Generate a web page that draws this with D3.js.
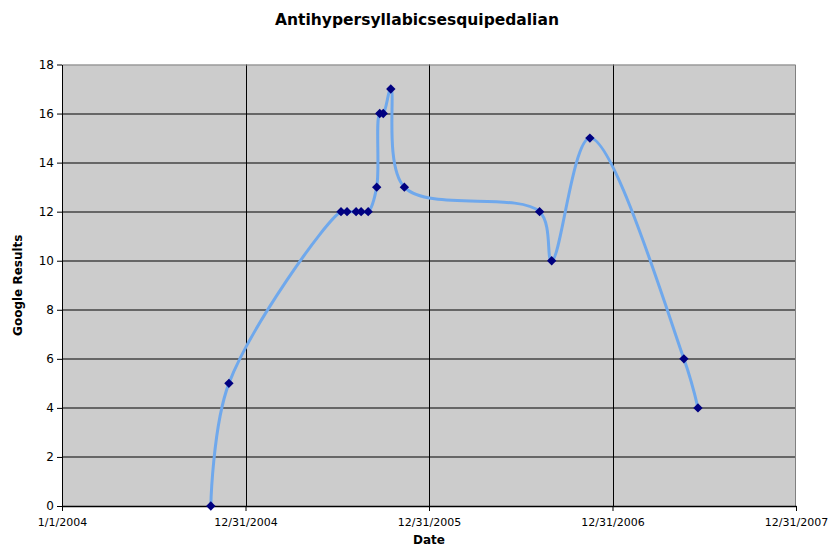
<!DOCTYPE html>
<html>
<head>
<meta charset="utf-8">
<script src="https://cdn.jsdelivr.net/npm/d3@7"></script>
<style>
  body { margin: 0; background: #fff; }
  text { font-family: Verdana, "DejaVu Sans", sans-serif; }
</style>
</head>
<body>
<div id="chart"></div>
<script>
// data
const dates = [
  '2004-10-23', '2004-11-28',
  '2005-07-09', '2005-07-21', '2005-08-08', '2005-08-18', '2005-09-01',
  '2005-09-18', '2005-09-24', '2005-10-01', '2005-10-16', '2005-11-12',
  '2006-08-08', '2006-09-01', '2006-11-16',
  '2007-05-22', '2007-06-19'
];
const results = [0, 5, 12, 12, 12, 12, 12, 13, 16, 16, 17, 13, 12, 10, 15, 6, 4];
const xTickDates = ['2004-01-01', '2004-12-31', '2005-12-31', '2006-12-31', '2007-12-31'];
const yTicks = [0, 2, 4, 6, 8, 10, 12, 14, 16, 18];

const parse = d3.timeParse('%Y-%m-%d');
const fmt = d3.timeFormat('%-m/%-d/%Y');
const data = dates.map((d, i) => ({ date: parse(d), value: results[i] }));

const margin = { top: 64.5, right: 36, bottom: 49, left: 62 };
const width = 832 - margin.left - margin.right;
const height = 555 - margin.top - margin.bottom;

const svg = d3.select('#chart').append('svg')
  .attr('width', 832)
  .attr('height', 555);

const g = svg.append('g')
  .attr('transform', `translate(${margin.left}, ${margin.top})`);

const x = d3.scaleTime()
  .domain([parse(xTickDates[0]), parse(xTickDates[xTickDates.length - 1])])
  .range([0, width]);

const y = d3.scaleLinear()
  .domain([0, 18])
  .range([height, 0]);

// plot background
g.append('rect')
  .attr('width', width)
  .attr('height', height)
  .attr('fill', '#cccccc');

// gridlines
g.append('g')
  .selectAll('line')
  .data(yTicks.slice(1, -1))
  .join('line')
  .attr('x1', 0).attr('x2', width)
  .attr('y1', d => Math.round(y(d)) + 0.5)
  .attr('y2', d => Math.round(y(d)) + 0.5)
  .attr('stroke', '#000');

g.append('g')
  .selectAll('line')
  .data(xTickDates.slice(1, -1).map(parse))
  .join('line')
  .attr('x1', d => Math.round(x(d)) + 0.5)
  .attr('x2', d => Math.round(x(d)) + 0.5)
  .attr('y1', 0).attr('y2', height)
  .attr('stroke', '#000');

// plot border (top & right grey)
g.append('path')
  .attr('d', `M0.5,${height} V0.5 H${width - 0.5} V${height}`)
  .attr('fill', 'none')
  .attr('stroke', '#808080');

// axes
const xAxis = g.append('g')
  .attr('transform', `translate(0, ${height})`)
  .call(d3.axisBottom(x)
    .tickValues(xTickDates.map(parse))
    .tickFormat(fmt)
    .tickSizeInner(5)
    .tickSizeOuter(0));
xAxis.select('.domain').attr('stroke-width', 1.5);
xAxis.selectAll('text')
  .style('font-size', '11px')
  .attr('dy', '1.1em');

const yAxis = g.append('g')
  .call(d3.axisLeft(y)
    .tickValues(yTicks)
    .tickSizeInner(5)
    .tickSizeOuter(0));
yAxis.selectAll('text')
  .style('font-size', '12px')
  .attr('x', -8);

// series line
const line = d3.line()
  .x(d => x(d.date))
  .y(d => y(d.value))
  .curve(d3.curveCatmullRom.alpha(0.5));

g.append('path')
  .datum(data)
  .attr('d', line)
  .attr('fill', 'none')
  .attr('stroke', '#6fa8ec')
  .attr('stroke-width', 3)
  .attr('stroke-linejoin', 'round');

// markers
g.append('g')
  .selectAll('path')
  .data(data)
  .join('path')
  .attr('transform', d => `translate(${x(d.date)}, ${y(d.value)})`)
  .attr('d', d3.symbol().type(d3.symbolDiamond2).size(56))
  .attr('fill', '#000080');

// titles
svg.append('text')
  .attr('x', 417)
  .attr('y', 25)
  .attr('text-anchor', 'middle')
  .style('font-size', '15.5px')
  .style('font-weight', 'bold')
  .text('Antihypersyllabicsesquipedalian');

svg.append('text')
  .attr('x', margin.left + width / 2)
  .attr('y', 544)
  .attr('text-anchor', 'middle')
  .style('font-size', '12px')
  .style('font-weight', 'bold')
  .text('Date');

svg.append('text')
  .attr('transform', `translate(22, ${margin.top + height / 2}) rotate(-90)`)
  .attr('text-anchor', 'middle')
  .style('font-size', '12px')
  .style('font-weight', 'bold')
  .text('Google Results');
</script>
</body>
</html>
